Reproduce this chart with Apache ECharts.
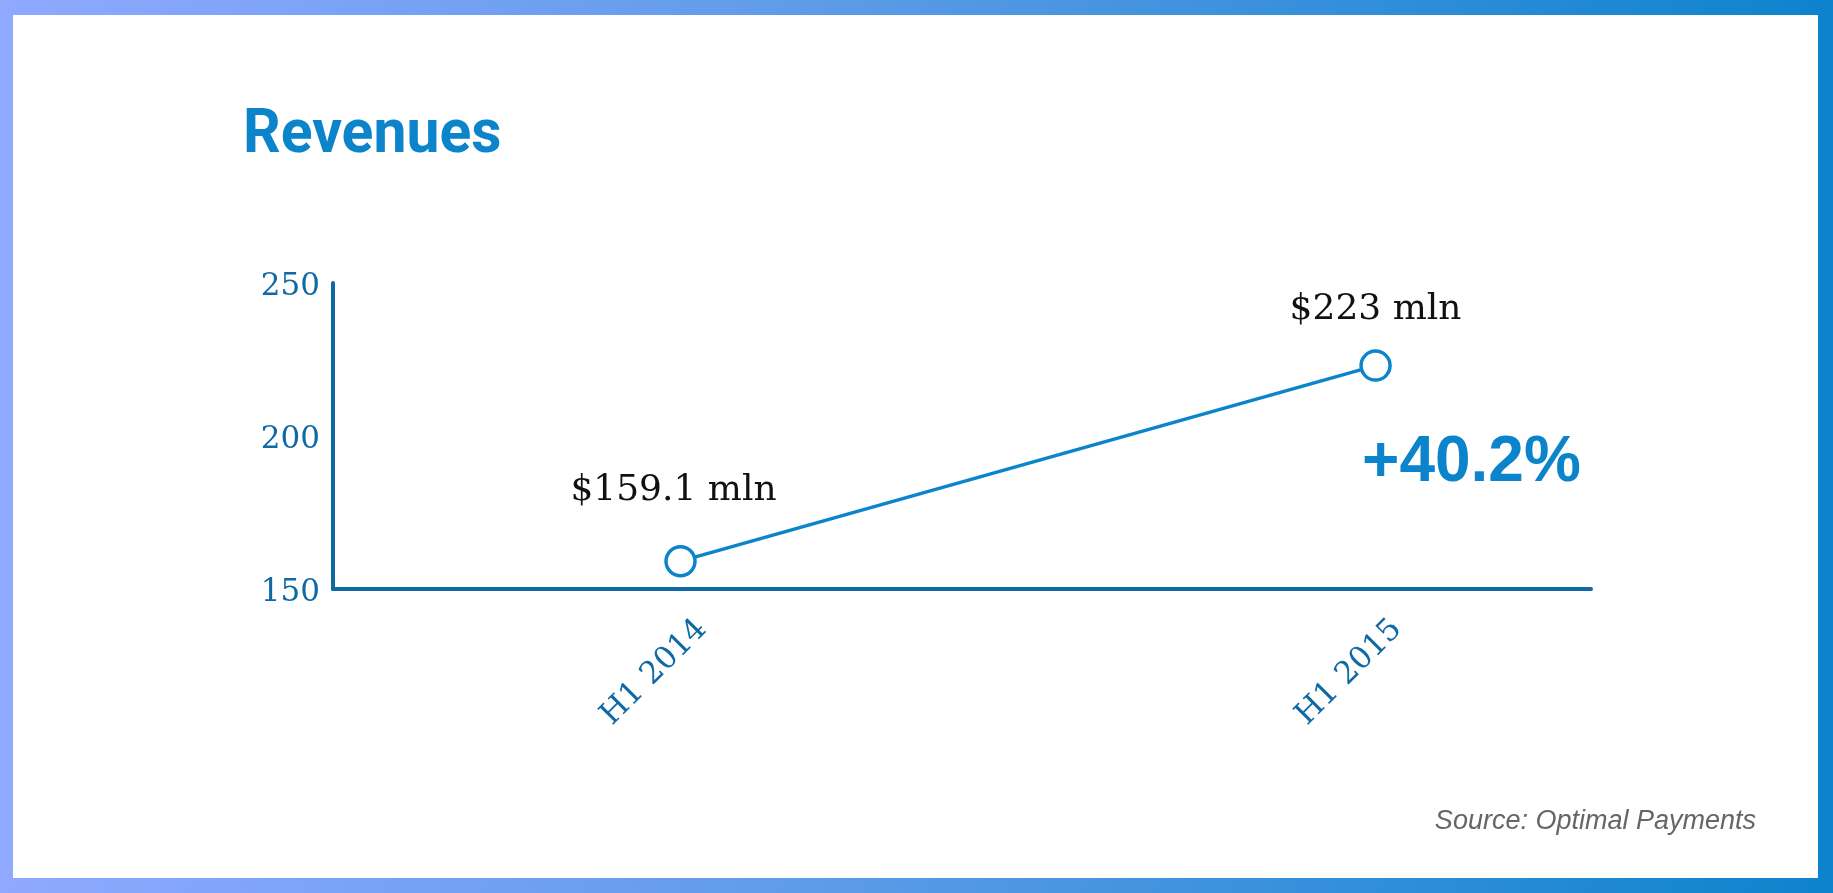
<!DOCTYPE html>
<html>
<head>
<meta charset="utf-8">
<script src="https://cdn.jsdelivr.net/npm/echarts@6/dist/echarts.min.js"></script>
<style>
  html, body { margin: 0; padding: 0; width: 1833px; height: 893px; overflow: hidden; }
  body { background: linear-gradient(90deg, #8fa9ff 0%, #5d9be8 45%, #0d83cd 100%); position: relative; }
  #inner { position: absolute; left: 13px; top: 15px; width: 1805px; height: 863px; background: #ffffff; }
  #chart { position: absolute; left: 0; top: 0; width: 1833px; height: 893px; }
</style>
</head>
<body>
<div id="inner"></div>
<div id="chart"></div>
<script>
const categories = ['H1 2014', 'H1 2015'];
const revenues = [159.1, 223];
const valueLabels = ['$159.1 mln', '$223 mln'];
const yTicks = [150, 200, 250];
const titleText = 'Revenues';
const growthText = '+40.2%';
const sourceText = 'Source: Optimal Payments';

const chart = echarts.init(document.getElementById('chart'), null, { renderer: 'canvas' });

const labelGap = [36, 22];
const labelShift = [[-7, 0], [0, 0]];
const seriesData = revenues.map((v, i) => ({
  value: [i, v],
  label: { distance: labelGap[i], offset: labelShift[i] }
}));

const option = {
  backgroundColor: 'transparent',
  animation: false,
  grid: { left: 333, right: 242, top: 283, bottom: 304, containLabel: false },
  xAxis: {
    type: 'value',
    min: -0.5,
    max: 1.31,
    interval: 0.5,
    splitLine: { show: false },
    axisTick: { show: false },
    axisLine: { show: true, onZero: false, lineStyle: { color: '#0f69a5', width: 4 } },
    axisLabel: {
      rotate: 45,
      margin: 14,
      verticalAlign: 'top',
      padding: [15, 0, 0, 0],
      showMaxLabel: false,
      showMinLabel: false,
      fontFamily: '"DejaVu Serif", serif',
      fontSize: 31,
      color: '#0f69a5',
      formatter: function (v) {
        const r = Math.round(v);
        return Math.abs(v - r) < 1e-6 && categories[r] !== undefined ? categories[r] : '';
      }
    }
  },
  yAxis: {
    type: 'value',
    min: yTicks[0],
    max: yTicks[yTicks.length - 1],
    interval: yTicks[1] - yTicks[0],
    splitLine: { show: false },
    axisTick: { show: false },
    axisLine: { show: true, onZero: false, lineStyle: { color: '#0f69a5', width: 4 } },
    axisLabel: {
      margin: 13,
      fontFamily: '"DejaVu Serif", serif',
      fontSize: 31,
      color: '#0f69a5',
      formatter: function (v) { return '{t|' + v + '}'; },
      rich: {
        t: {
          fontFamily: '"DejaVu Serif", serif',
          fontSize: 31,
          color: '#0f69a5',
          padding: [7, 0, 0, 0]
        }
      }
    }
  },
  series: [{
    type: 'line',
    data: seriesData,
    symbol: 'circle',
    symbolSize: 29,
    lineStyle: { color: '#0b84cb', width: 3.5 },
    itemStyle: { color: '#ffffff', borderColor: '#0b84cb', borderWidth: 3.5 },
    label: {
      show: true,
      position: 'top',
      fontFamily: '"DejaVu Serif", serif',
      fontSize: 36,
      color: '#111111',
      formatter: function (p) { return valueLabels[p.dataIndex]; }
    },
    z: 5
  }],
  graphic: [
    {
      type: 'text',
      x: 243,
      y: 105,
      scaleX: 0.95,
      style: {
        x: 0, y: 0,
        text: titleText,
        fontFamily: 'Roboto, "DejaVu Sans", sans-serif',
        fontWeight: 'bold',
        fontSize: 62,
        fill: '#0b84cb',
        align: 'left',
        verticalAlign: 'top'
      }
    },
    {
      type: 'text',
      x: 1362,
      y: 431,
      style: {
        x: 0, y: 0,
        text: growthText,
        fontFamily: '"Liberation Sans", Arial, sans-serif',
        fontWeight: 'bold',
        fontSize: 64,
        fill: '#0b84cb',
        align: 'left',
        verticalAlign: 'top'
      }
    },
    {
      type: 'text',
      x: 1756,
      y: 808,
      style: {
        x: 0, y: 0,
        text: sourceText,
        fontFamily: '"Liberation Sans", Arial, sans-serif',
        fontStyle: 'italic',
        fontSize: 27,
        fill: '#666666',
        align: 'right',
        verticalAlign: 'top'
      }
    }
  ]
};

chart.setOption(option);
</script>
</body>
</html>
